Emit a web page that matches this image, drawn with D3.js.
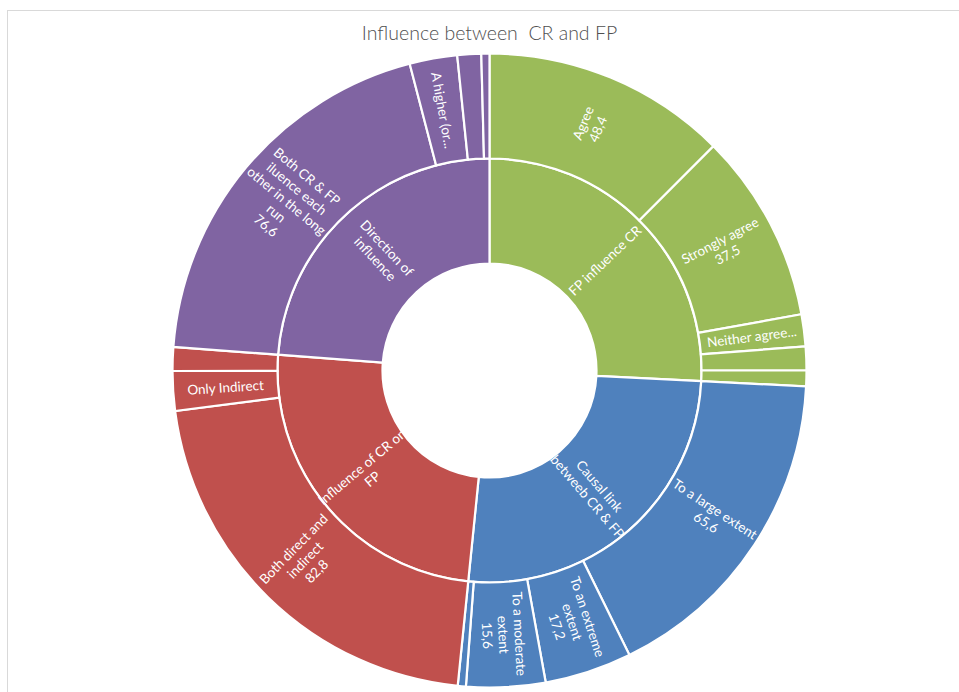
<!DOCTYPE html>
<html>
<head>
<meta charset="utf-8">
<script src="https://cdn.jsdelivr.net/npm/d3@7"></script>
<style>
  html, body { margin: 0; padding: 0; background: #fff; }
  svg { display: block; }
</style>
</head>
<body>
<svg id="chart" width="959" height="692"></svg>
<script>
// Survey shares (% of respondents), one small array per question
const groups = ["FP influence CR", "Causal link betweeb CR & FP", "Influence of CR on FP", "Direction of influence"];

const fpInfluenceNames  = ["Agree", "Strongly agree", "Neither agree nor disagree", "Disagree", "Strongly disagree"];
const fpInfluenceValues = [48.4, 37.5, 6.3, 4.7, 3.1];

const causalLinkNames  = ["To a large extent", "To an extreme extent", "To a moderate extent", "To a small extent"];
const causalLinkValues = [65.6, 17.2, 15.6, 1.6];

const crOnFpNames  = ["Both direct and indirect", "Only Indirect", "Only direct"];
const crOnFpValues = [82.8, 7.8, 4.7];

const directionNames  = ["Both CR & FP iluence each other in the long run", "A higher (or lower) CR leads to a higher (or lower) FP", "FP drives CR", "CR drives FP"];
const directionValues = [76.6, 9.4, 4.7, 1.6];

// Wrapped captions as they appear on the rings
const groupCaptions = [["FP influence CR"], ["Causal link", "betweeb CR & FP"], ["Influence of CR on", "FP"], ["Direction of", "influence"]];
const leafCaptions = {
  "Agree": ["Agree"],
  "Strongly agree": ["Strongly agree"],
  "Neither agree nor disagree": ["Neither agree..."],
  "To a large extent": ["To a large extent"],
  "To an extreme extent": ["To an extreme", "extent"],
  "To a moderate extent": ["To a moderate", "extent"],
  "Both direct and indirect": ["Both direct and", "indirect"],
  "Only Indirect": ["Only Indirect"],
  "Both CR & FP iluence each other in the long run": ["Both CR & FP", "iluence each", "other in the long", "run"],
  "A higher (or lower) CR leads to a higher (or lower) FP": ["A higher (or..."]
};
// narrow segments show only their name
const nameOnly = ["Neither agree nor disagree", "Only Indirect", "A higher (or lower) CR leads to a higher (or lower) FP"];

const palette = ["#9bbb59", "#4f81bd", "#c0504d", "#8064a2"];

const cx = 489.5, cy = 370.5;
const holeR = 107, outerR = 317;

const svg = d3.select("#chart");

// chart area border
svg.append("rect")
  .attr("x", 7.5).attr("y", 10.5)
  .attr("width", 980).attr("height", 720)
  .attr("fill", "#fff").attr("stroke", "#d9d9d9").attr("stroke-width", 1);

svg.append("text")
  .attr("x", cx).attr("y", 40)
  .attr("text-anchor", "middle")
  .attr("font-family", "Lato, 'Open Sans', sans-serif")
  .attr("font-weight", 300)
  .attr("font-size", 19.5)
  .attr("fill", "#505050")
  .attr("xml:space", "preserve")
  .style("white-space", "pre")
  .text("Influence between  CR and FP");

const leafSets = [
  [fpInfluenceNames, fpInfluenceValues],
  [causalLinkNames, causalLinkValues],
  [crOnFpNames, crOnFpValues],
  [directionNames, directionValues]
];

const treeData = {
  name: "root",
  children: groups.map((grp, i) => ({
    name: grp,
    group: i,
    children: leafSets[i][0].map((n, j) => ({ name: n, group: i, value: leafSets[i][1][j] }))
  }))
};

const root = d3.hierarchy(treeData).sum(d => d.value || 0);
d3.partition().size([2 * Math.PI, 3])(root);

// depth bands 1..3 map onto the two rings
const rScale = d3.scaleLinear().domain([1, 3]).range([holeR, outerR]);

const arc = d3.arc()
  .startAngle(d => d.x0)
  .endAngle(d => d.x1)
  .innerRadius(d => rScale(d.y0))
  .outerRadius(d => rScale(d.y1));

const g = svg.append("g").attr("transform", `translate(${cx},${cy})`);

const nodes = root.descendants().filter(d => d.depth > 0);

g.selectAll("path.seg")
  .data(nodes)
  .join("path")
  .attr("class", "seg")
  .attr("d", arc)
  .attr("fill", d => palette[d.data.group])
  .attr("stroke", "#fff")
  .attr("stroke-width", 2.2)
  .attr("stroke-linejoin", "miter");

const fmt = v => d3.format(".1f")(v).replace(".", ",");

function captionFor(d) {
  if (d.depth === 1) return groupCaptions[d.data.group];
  const c = leafCaptions[d.data.name];
  if (!c) return null;
  return nameOnly.includes(d.data.name) ? c : c.concat([fmt(d.value)]);
}

const lineH = 16;

const labels = g.selectAll("text.lbl")
  .data(nodes.filter(d => captionFor(d)))
  .join("text")
  .attr("class", "lbl")
  .attr("font-family", "Lato, 'Open Sans', sans-serif")
  .attr("font-size", 13.5)
  .attr("fill", "#fff")
  .attr("text-anchor", "middle")
  .attr("transform", d => {
    const a = (d.x0 + d.x1) / 2;
    const r = (rScale(d.y0) + rScale(d.y1)) / 2;
    const x = r * Math.sin(a), y = -r * Math.cos(a);
    let rot = a * 180 / Math.PI - 90;
    if (rot > 90) rot -= 180;
    return `translate(${x},${y}) rotate(${rot})`;
  });

labels.each(function (d) {
  const lines = captionFor(d);
  const t = d3.select(this);
  const off = -(lines.length - 1) / 2 * lineH;
  lines.forEach((ln, i) => {
    t.append("tspan")
      .attr("x", 0)
      .attr("y", off + i * lineH)
      .attr("dy", "0.35em")
      .text(ln);
  });
});
</script>
</body>
</html>
